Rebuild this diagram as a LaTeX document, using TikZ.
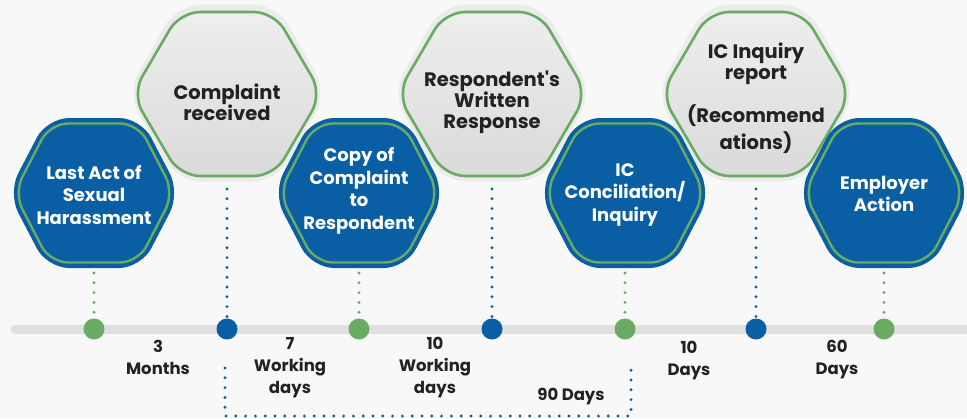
\documentclass[tikz,border=0pt]{standalone}
\usepackage{fontspec}
\newfontfamily\mf{Poppins}
\usetikzlibrary{calc}
\definecolor{bgc}{HTML}{F8F8F8}
\definecolor{hexblue}{HTML}{0A5EA3}
\definecolor{hexgreen}{HTML}{6AAB63}
\definecolor{linegray}{HTML}{E0E0E0}
\definecolor{halogray}{HTML}{EBEBEB}
\definecolor{grtop}{HTML}{EEEEEE}
\definecolor{grbot}{HTML}{DADADA}
\definecolor{txtdark}{HTML}{222222}
% #1 cx, #2 cy, #3 half width (side vertex), #4 half height, #5 half width of top edge
\newcommand\hexpath[5]{(#1,#2-#4) -- (#1+#5,#2-#4) -- (#1+#3,#2) -- (#1+#5,#2+#4) -- (#1-#5,#2+#4) -- (#1-#3,#2) -- (#1-#5,#2-#4) -- cycle}
\newcommand\bluehex[2]{%
  \fill[hexblue, rounded corners=22] \hexpath{#1}{#2}{86}{75}{47};
  \draw[hexgreen, line width=2.4, rounded corners=18] \hexpath{#1}{#2}{80}{69.5}{44};}
\newcommand\grayhex[2]{%
  \fill[halogray, rounded corners=24] \hexpath{#1}{#2-1}{100}{88.5}{50};
  \shade[top color=grtop, bottom color=grbot, rounded corners=20] \hexpath{#1}{#2}{95}{82}{47};
  \draw[hexgreen, line width=2.6, rounded corners=20] \hexpath{#1}{#2}{95}{82}{47};}
\tikzset{
  graytxt/.style={text=txtdark, font=\mf\bfseries\fontsize{19.5}{21}\selectfont, align=center, inner sep=0pt},
  bluetxt/.style={text=white, font=\mf\bfseries\fontsize{18}{22.5}\selectfont, align=center, inner sep=0pt},
  lbl/.style={text=txtdark, font=\mf\bfseries\fontsize{16.5}{22}\selectfont, align=center, inner sep=0pt},
  gdot/.style={circle, fill=hexgreen, minimum size=21pt, inner sep=0pt},
  bdot/.style={circle, fill=hexblue, minimum size=21pt, inner sep=0pt},
  gdotted/.style={hexgreen, line width=3.2pt, line cap=round, dash pattern=on 0pt off 9.8pt},
  bdotted/.style={hexblue, line width=3.2pt, line cap=round, dash pattern=on 0pt off 9.8pt},
  tline/.style={linegray, line width=9pt, line cap=round}
}
\begin{document}
\begin{tikzpicture}[x=1pt, y=-1pt]
\useasboundingbox (0,0) rectangle (967,418);
\fill[bgc] (0,0) rectangle (967,418);
% timeline
\coordinate (tl0) at (15,329);
\coordinate (tl1) at (975,329);
\draw[tline] (tl0) -- (tl1);
% dots
\node[gdot] (d1) at (94,329) {};
\node[bdot] (d2) at (227,329) {};
\node[gdot] (d3) at (359,329) {};
\node[bdot] (d4) at (492,329) {};
\node[gdot] (d5) at (625,329) {};
\node[bdot] (d6) at (756,329) {};
\node[gdot] (d7) at (884,329) {};
% hexagons
\grayhex{227}{94}
\grayhex{492}{94}
\grayhex{756}{94}
\bluehex{94}{193}
\bluehex{359}{193}
\bluehex{625}{193}
\bluehex{884}{193}
% hexagon bottoms
\coordinate (b1) at (94,273);
\coordinate (b2) at (227,189);
\coordinate (b3) at (359,273);
\coordinate (b4) at (492,189);
\coordinate (b5) at (625,273);
\coordinate (b6) at (756,189);
\coordinate (b7) at (884,273);
\draw[gdotted] (b1) -- (d1);
\draw[bdotted] (b2) -- (d2);
\draw[gdotted] (b3) -- (d3);
\draw[bdotted] (b4) -- (d4);
\draw[gdotted] (b5) -- (d5);
\draw[bdotted] (b6) -- (d6);
\draw[gdotted] (b7) -- (d7);
% bracket
\coordinate (k1) at (225,368);
\coordinate (k2) at (225,416);
\coordinate (k3) at (631,416);
\coordinate (k4) at (631,368);
\draw[bdotted] (k1) -- (k2) -- (k3) -- (k4);
% texts in hexagons
\node[graytxt] (t2) at (227,102) {Complaint\\received};
\node[graytxt] (t4) at (492,102) {Respondent's\\Written\\Response};
\node[graytxt] (t6) at (756,98) {IC Inquiry\\report\\[19pt](Recommend\\[4pt]ations)};
\node[bluetxt] (t1) at (94,195) {Last Act of\\Sexual\\Harassment};
\node[bluetxt] (t3) at (359,191) {Copy of\\Complaint\\to\\Respondent};
\node[bluetxt] (t5) at (625,195) {IC\\Conciliation/\\Inquiry};
\node[bluetxt] (t7) at (884,194) {Employer\\Action};
% interval labels
\node[lbl] (l1) at (158,357) {3\\Months};
\node[lbl] (l2) at (290,368) {7\\Working\\days};
\node[lbl] (l3) at (435,368) {10\\Working\\days};
\node[lbl] (l4) at (571,397) {90 Days};
\node[lbl] (l5) at (689,361) {10\\Days};
\node[lbl] (l6) at (837,360) {60\\Days};
\end{tikzpicture}
\end{document}
